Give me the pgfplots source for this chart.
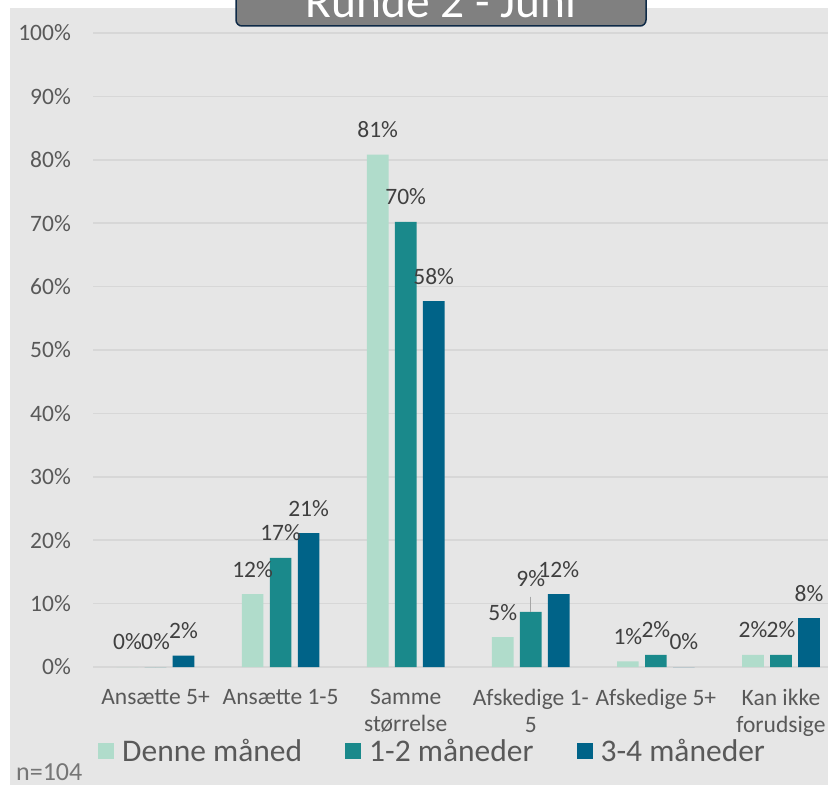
\documentclass[border=0pt]{standalone}
\usepackage{pgfplots}
\pgfplotsset{compat=1.18}
\usepackage{pgfplotstable}
\usepackage{fontspec}
\setmainfont{Carlito}
\definecolor{bgc}{HTML}{E6E6E6}
\definecolor{gridc}{HTML}{D7D7D7}
\definecolor{cA}{HTML}{B0DCCB}
\definecolor{cB}{HTML}{1A898B}
\definecolor{cC}{HTML}{006388}
\definecolor{lblc}{HTML}{404040}
\definecolor{tickc}{HTML}{595959}
\definecolor{nc}{HTML}{767676}
\definecolor{titlefill}{HTML}{808080}
\definecolor{titledraw}{HTML}{0E2A47}
\pgfplotsset{sqlegend/.style={legend image code/.code={\fill[##1] (0pt,-8pt) rectangle (16pt,8pt);}}}

\pgfplotstableread{
x y lbl sh err
0 0 0 25 0
1 11.5 12 25 0
2 80.8 81 25 0
3 4.7 5 25 0
4 0.9 1 25 0
5 1.9 2 25 0
}\dA
\pgfplotstableread{
x y lbl sh err
0 0 0 25 0
1 17.2 17 25 0
2 70.2 70 25 0
3 8.7 9 33 2.4
4 1.9 2 25 0
5 1.9 2 25 0
}\dB
\pgfplotstableread{
x y lbl sh err
0 1.8 2 25 0
1 21.1 21 25 0
2 57.7 58 25 0
3 11.5 12 25 0
4 0 0 25 0
5 7.7 8 25 0
}\dC

\begin{document}
\begin{tikzpicture}
\useasboundingbox (0,0) rectangle (828pt,785pt);
\clip (0,0) rectangle (828pt,785pt);
\fill[white] (0,0) rectangle (828pt,785pt);
\fill[bgc] (10pt,0) rectangle (828pt,777pt);
\begin{axis}[
  at={(93pt,118pt)}, anchor=south west,
  scale only axis, width=750.5pt, height=634pt,
  xmin=-0.5, xmax=5.5, ymin=0, ymax=100,
  axis line style={draw=none},
  major tick length=0pt,
  ymajorgrids, major grid style={draw=gridc, line width=1.5pt},
  ytick={0,10,...,100},
  yticklabels={0\%,10\%,20\%,30\%,40\%,50\%,60\%,70\%,80\%,90\%,100\%},
  yticklabel style={font=\fontsize{23.5}{28}\selectfont, text=tickc, inner sep=0pt, anchor=east, xshift=-22pt},
  xtick={0,...,5},
  xticklabels={Ansætte 5+, Ansætte 1-5, Samme\\størrelse, Afskedige 1-\\5, Afskedige 5+, Kan ikke\\forudsige},
  xticklabel style={font=\fontsize{23.5}{27}\selectfont, text=tickc, align=center, inner sep=0pt, anchor=north, yshift=-22pt},
  ybar=6.3pt, bar width=21.7pt,
  point meta=explicit,
  nodes near coords={\pgfmathprintnumber{\pgfplotspointmeta}\%},
  visualization depends on={\thisrow{sh} \as \lsh},
  every node near coord/.append style={font=\fontsize{23.5}{28}\selectfont, text=lblc, anchor=center, yshift=\lsh, inner sep=0pt},
  /pgf/number format/assume math mode=true,
  legend columns=3,
  legend style={at={(axis description cs:0.0067,-0.1325)}, anchor=west, draw=none, fill=none, inner sep=0pt, font=\fontsize{31.5}{37}\selectfont, text=tickc, column sep=8pt, /tikz/every even column/.append style={column sep=43pt}, nodes={inner sep=0pt}},
  legend cell align=left,
]
\addplot[fill=cA, draw=none, sqlegend] table[x=x, y=y, meta=lbl] {\dA};
\addlegendentry{Denne måned}
\addplot[fill=cB, draw=none, sqlegend,
  error bars/.cd, y dir=plus, y explicit, error mark=none,
  error bar style={draw=gray!70, line width=1pt}]
  table[x=x, y=y, meta=lbl, y error=err] {\dB};
\addlegendentry{1-2 måneder}
\addplot[fill=cC, draw=none, sqlegend] table[x=x, y=y, meta=lbl] {\dC};
\addlegendentry{3-4 måneder}
\end{axis}
\draw[fill=titlefill, draw=titledraw, line width=1.5pt, rounded corners=6pt] (236pt,759pt) rectangle (646pt,840pt);
\node[anchor=base, text=white, inner sep=0pt, font=\fontsize{47.5}{57}\selectfont] at (441pt,767.7pt) {Runde 2 - Juni};
\node[anchor=base west, inner sep=0pt, text=nc, font=\fontsize{26}{30}\selectfont] at (16pt,4.3pt) {n=104};
\end{tikzpicture}
\end{document}
